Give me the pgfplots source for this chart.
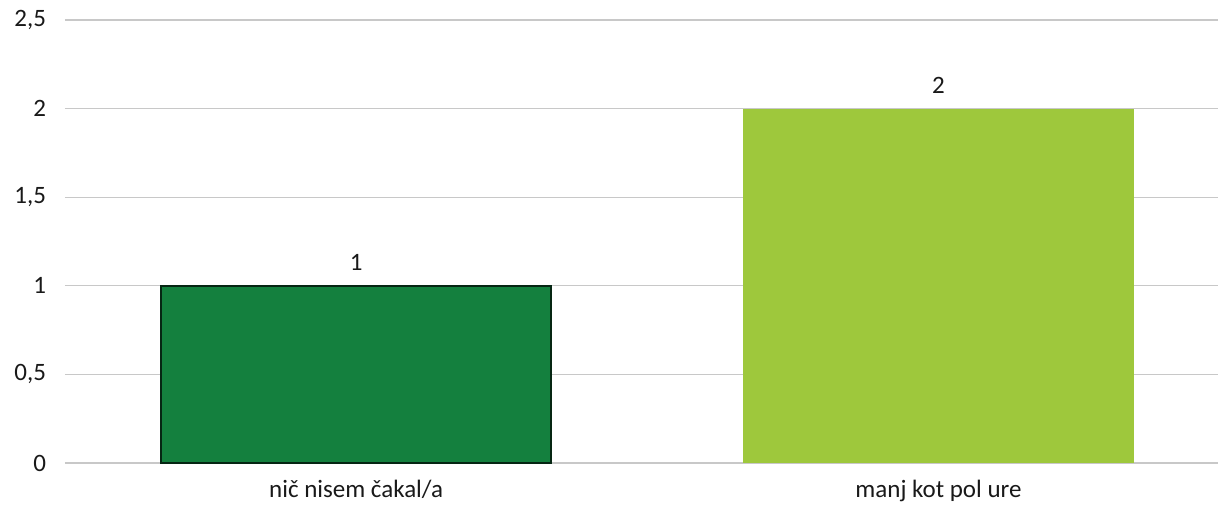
\documentclass[border=0pt]{standalone}
\usepackage{fontspec}
\setmainfont{Carlito}
\usepackage{pgfplots}
\pgfplotsset{compat=1.18}
\definecolor{darkg}{RGB}{20,128,62}
\definecolor{lightg}{RGB}{158,200,60}
\definecolor{gridc}{RGB}{200,200,200}
\begin{document}
\begin{tikzpicture}
\begin{axis}[
  name=ax,
  at={(0,0)}, anchor=south west,
  scale only axis,
  width=576.5pt, height=221.5pt,
  xmin=-0.5, xmax=1.48,
  ymin=0, ymax=2.5,
  ytick={0,0.5,1,1.5,2,2.5},
  xtick={0,1},
  xticklabels={nič nisem čakal/a, manj kot pol ure},
  axis line style={draw=none},
  major tick length=0pt,
  ymajorgrids,
  grid style={gridc, line width=0.6pt},
  /pgf/number format/use comma,
  /pgf/number format/assume math mode=true,
  tick label style={font=\fontsize{12.5pt}{14pt}\selectfont, text=black!90},
  yticklabel style={xshift=-6pt},
  xticklabel style={yshift=-5pt},
  ybar, bar width=195pt, bar shift=0pt,
  nodes near coords,
  nodes near coords style={font=\fontsize{12.5pt}{14pt}\selectfont, text=black!90, anchor=south, yshift=4pt},
  clip=false,
]
\addplot[fill=darkg, draw=black!70!darkg, line width=0.8pt] coordinates {(0,1)};
\addplot[fill=lightg, draw=none] coordinates {(1,2)};
\end{axis}
\pgfresetboundingbox
\path[use as bounding box] (-32.5pt,-22pt) rectangle (576.5pt,231.5pt);
\end{tikzpicture}
\end{document}
